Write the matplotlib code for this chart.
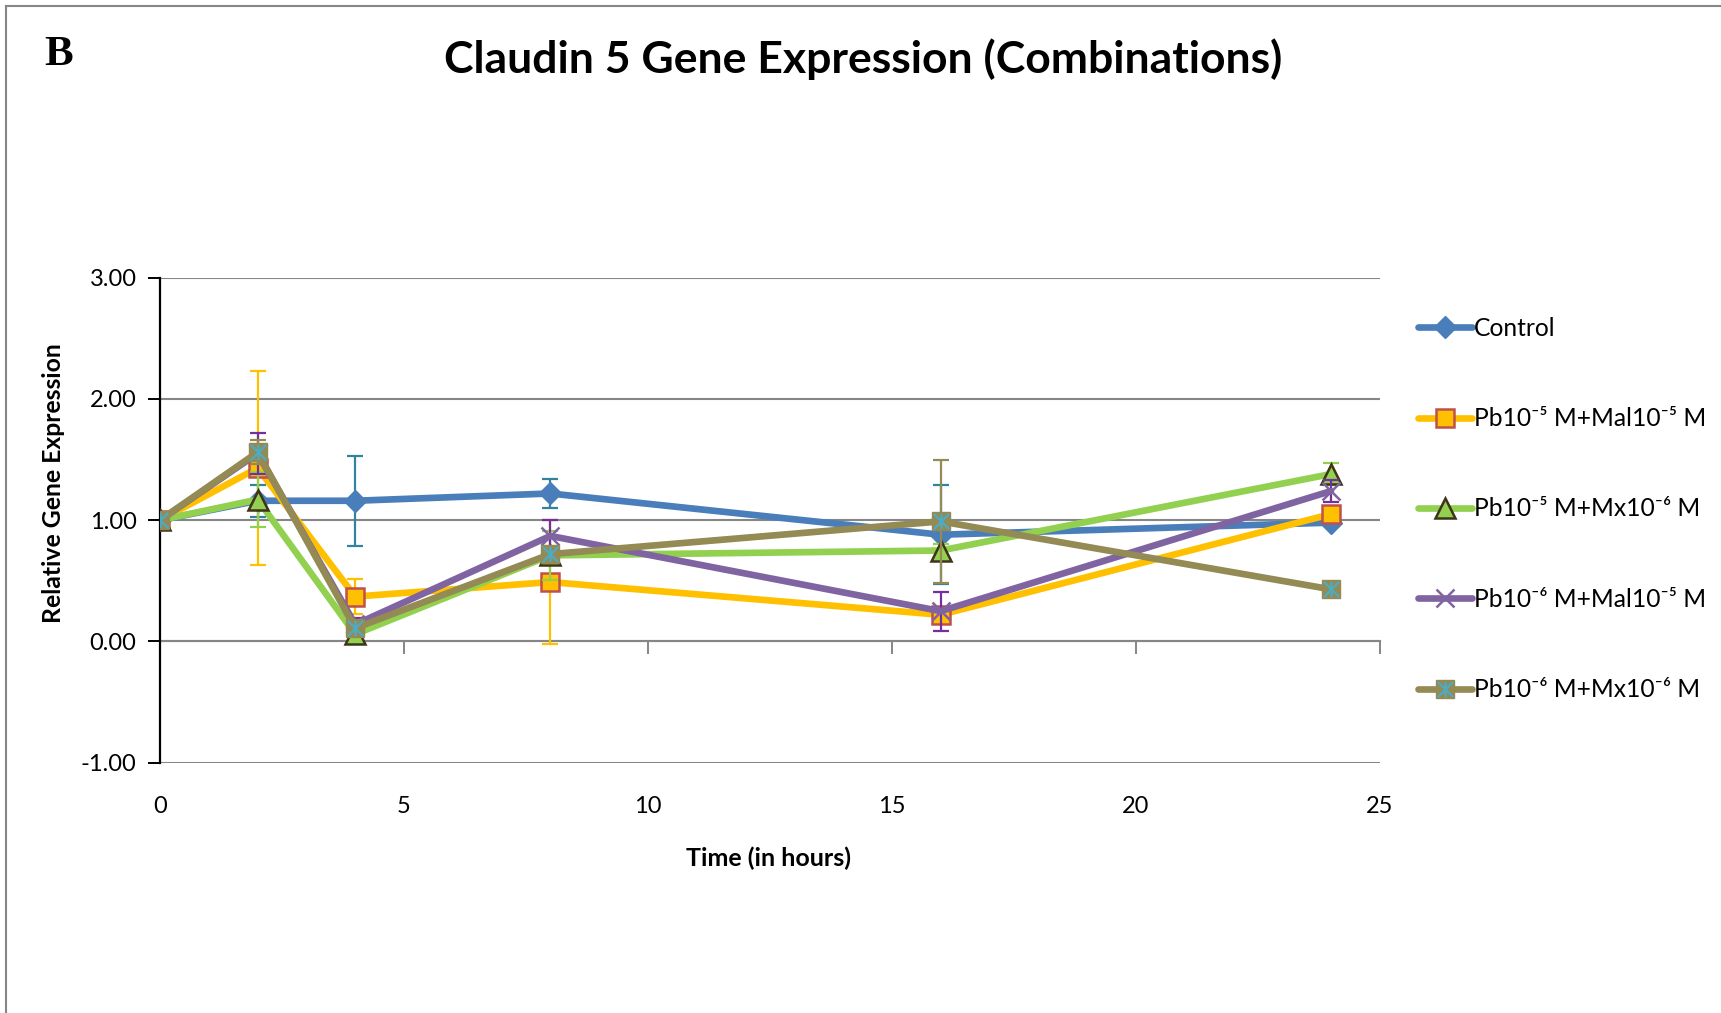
import matplotlib
matplotlib.use("Agg")
import matplotlib.pyplot as plt
from matplotlib.path import Path
from matplotlib.lines import Line2D

# ---- data ----
hours = [0, 2, 4, 8, 16, 24]
series_names = ["Control",
                "Pb10\u207b\u2075 M+Mal10\u207b\u2075 M",
                "Pb10\u207b\u2075 M+Mx10\u207b\u2076 M",
                "Pb10\u207b\u2076 M+Mal10\u207b\u2075 M",
                "Pb10\u207b\u2076 M+Mx10\u207b\u2076 M"]
control = [1.00, 1.16, 1.16, 1.22, 0.88, 0.98]
control_err = [0.0, 0.13, 0.37, 0.12, 0.41, 0.02]
pb5_mal5 = [1.00, 1.43, 0.37, 0.49, 0.22, 1.05]
pb5_mal5_err = [0.0, 0.80, 0.145, 0.51, 0.05, 0.05]
pb5_mx6 = [1.00, 1.17, 0.06, 0.71, 0.75, 1.38]
pb5_mx6_err = [0.0, 0.23, 0.05, 0.20, 0.05, 0.09]
pb6_mal5 = [1.00, 1.55, 0.14, 0.87, 0.25, 1.24]
pb6_mal5_err = [0.0, 0.17, 0.05, 0.13, 0.16, 0.09]
pb6_mx6 = [1.00, 1.56, 0.11, 0.72, 0.99, 0.43]
pb6_mx6_err = [0.0, 0.10, 0.03, 0.05, 0.51, 0.03]
y_ticks = [-1, 0, 1, 2, 3]
x_ticks = [0, 5, 10, 15, 20, 25]

plt.rcParams['font.family'] = ['Lato', 'DejaVu Sans']

fig = plt.figure(figsize=(17.21, 10.13), dpi=100)
ax = fig.add_axes([0.093, 0.247, 0.7087, 0.479])

star = Path([(0, -1), (0, 1), (-1, -1), (1, 1), (-1, 1), (1, -1)],
            [Path.MOVETO, Path.LINETO] * 3)

lw = 4.8
styles = [
    dict(data=control, err=control_err, color='#4A7EBB', ecolor='#31849B',
         marker='D', ms=11, mfc='#4A7EBB', mec='#4A7EBB', mew=1),
    dict(data=pb5_mal5, err=pb5_mal5_err, color='#FFC000', ecolor='#FFC000',
         marker='s', ms=13, mfc='#FFC000', mec='#C0504D', mew=1.8),
    dict(data=pb5_mx6, err=pb5_mx6_err, color='#92D050', ecolor='#92D050',
         marker='^', ms=14, mfc='#92D050', mec='#3F3419', mew=1.8),
    dict(data=pb6_mal5, err=pb6_mal5_err, color='#8064A2', ecolor='#7030A0',
         marker='x', ms=13, mfc='#8064A2', mec='#8064A2', mew=1.8),
    dict(data=pb6_mx6, err=pb6_mx6_err, color='#948A54', ecolor='#948A54',
         marker='s', ms=13, mfc='#948A54', mec='#948A54', mew=1),
]

handles = []
for i, (name, st) in enumerate(zip(series_names, styles)):
    z = 3 + i * 3
    ax.errorbar(hours, st['data'], yerr=st['err'], fmt='none', ecolor=st['ecolor'],
                elinewidth=1.6, capsize=6, capthick=1.6, zorder=z)
    ln, = ax.plot(hours, st['data'], color=st['color'], lw=lw, marker=st['marker'],
                  ms=st['ms'], mfc=st['mfc'], mec=st['mec'], mew=st['mew'],
                  zorder=z + 1, solid_joinstyle='round', solid_capstyle='round')
    if i == 4:
        ov, = ax.plot(hours, st['data'], ls='none', marker=star, ms=11,
                      mec='#4BACC6', mfc='none', mew=1.6, zorder=z + 2)
        handles.append((ln, ov))
    else:
        handles.append(ln)

ax.set_xlim(0, 25)
ax.set_ylim(-1, 3)
ax.set_yticks(y_ticks)
ax.set_yticklabels([f"{v:.2f}" for v in y_ticks])
ax.set_xticks(x_ticks)
ax.set_xticklabels([str(v) for v in x_ticks])
ax.tick_params(axis='x', length=0, pad=24, labelsize=17)
ax.tick_params(axis='y', length=9, width=1.4, direction='out', labelsize=17, pad=8)
ax.yaxis.grid(True, color='#868686', lw=1.5)
ax.set_axisbelow(True)
for s in ['top', 'right', 'bottom']:
    ax.spines[s].set_visible(False)
ax.spines['left'].set_color('black')
ax.spines['left'].set_linewidth(1.6)

sec = ax.secondary_xaxis(0.25)
sec.set_xticks(x_ticks)
sec.set_xticklabels([])
sec.tick_params(length=9, width=1.4, color='#868686', direction='out')
sec.spines['bottom'].set_color('#868686')
sec.spines['bottom'].set_linewidth(1.5)

fig.text(0.5015, 0.942, "Claudin 5 Gene Expression (Combinations)", ha='center', va='center',
         fontsize=32, fontweight='bold')
fig.text(0.0255, 0.946, "B", ha='left', va='center', fontsize=31, fontweight='bold',
         family='Liberation Serif')
fig.text(0.031, 0.523, "Relative Gene Expression", rotation=90, ha='center', va='center',
         fontsize=17.8, fontweight='bold')
fig.text(0.4465, 0.153, "Time (in hours)", ha='center', va='center',
         fontsize=18, fontweight='bold')

leg = fig.legend(handles, series_names, loc='upper left', bbox_to_anchor=(0.818, 0.697),
                 frameon=False, fontsize=17.7, labelspacing=2.74, handlelength=2.2,
                 handletextpad=0.1, borderaxespad=0)

fig.add_artist(Line2D([0.0035, 1.0], [0.994, 0.994], color='#868686', lw=1.5,
                      transform=fig.transFigure))
fig.add_artist(Line2D([0.0035, 0.0035], [0.0, 0.994], color='#868686', lw=1.5,
                      transform=fig.transFigure))

fig.savefig("out.png", dpi=100)
